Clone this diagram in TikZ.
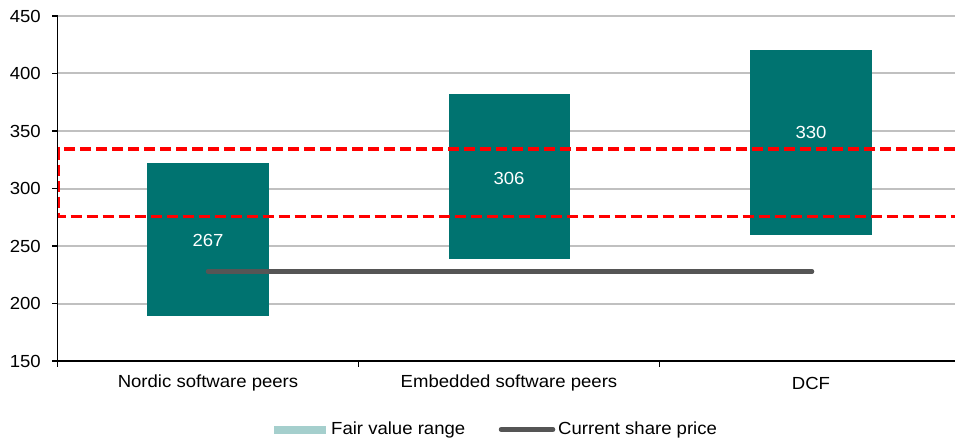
\documentclass[tikz,border=0pt]{standalone}
\usepackage{fontspec}
\setmainfont{Liberation Sans}[FakeStretch=1.06]
\definecolor{barteal}{HTML}{007370}
\definecolor{lightteal}{HTML}{A5CFCD}
\definecolor{gridgray}{HTML}{C0C0C0}
\definecolor{pricegray}{HTML}{555555}
\definecolor{dashred}{HTML}{FF0000}
\tikzset{
  grid line/.style={draw=gridgray, line width=2pt},
  axis line/.style={draw=black, line width=1.8pt},
  tick line/.style={draw=black, line width=1.2pt},
  fvbar/.style={fill=barteal, draw=none},
  val label/.style={text=white, font=\fontsize{17.5}{17.5}\selectfont, inner sep=0pt},
  axis label/.style={font=\fontsize{17.5}{17.5}\selectfont, inner sep=0pt, anchor=east},
  cat label/.style={font=\fontsize{17.5}{17.5}\selectfont, inner sep=0pt},
  leg label/.style={font=\fontsize{17.5}{17.5}\selectfont, inner sep=0pt, anchor=west},
  range box/.style={draw=dashred, line width=3.5pt, dash pattern=on 11pt off 5pt},
  price line/.style={draw=pricegray, line width=4.5pt, line cap=round},
}
\begin{document}
\begin{tikzpicture}[x=1pt, y=-1pt]
\useasboundingbox (0,0) rectangle (955,441);
% gridlines
\foreach \yy in {16,73.5,131,188.5,246,303.5}
  \draw[grid line] (57,\yy) -- (955,\yy);
% y labels and ticks
\foreach \yy/\lab in {16/450,73.5/400,131/350,188.5/300,246/250,303.5/200,361/150}{
  \draw[tick line] (52,\yy) -- (57.5,\yy);
  \node[axis label] at (41,\yy) {\lab};
}
% bars
\path[fvbar] (147,162.5) rectangle (269,315.5);
\path[fvbar] (449,94) rectangle (570,259);
\path[fvbar] (750,50) rectangle (872,235);
% range box
\draw[range box] (955,149) -- (58.5,149) -- (58.5,216.5) -- (955,216.5);
% share price
\coordinate (p1) at (208,271.5);
\coordinate (p2) at (812,271.5);
\draw[price line] (p1) -- (p2);
% value labels
\node[val label] (v1) at (208,240) {267};
\node[val label] (v2) at (509,178) {306};
\node[val label] (v3) at (811,132) {330};
% axes
\draw[axis line] (57.5,16) -- (57.5,361);
\draw[axis line] (57.5,361) -- (955,361);
\foreach \xx in {57.5,358.5,659.5}
  \draw[tick line] (\xx,361) -- (\xx,367);
% category labels
\node[cat label] (c1) at (208,383) {Nordic software peers};
\node[cat label] (c2) at (509,383) {Embedded software peers};
\node[cat label] (c3) at (811,383) {DCF};
% legend
\path[fill=lightteal] (274,426) rectangle (326,434);
\node[leg label] (l1) at (331,429.5) {Fair value range};
\coordinate (ls) at (501,429.5);
\coordinate (le) at (553,429.5);
\draw[price line] (ls) -- (le);
\node[leg label] (l2) at (558,429.5) {Current share price};
\end{tikzpicture}
\end{document}
